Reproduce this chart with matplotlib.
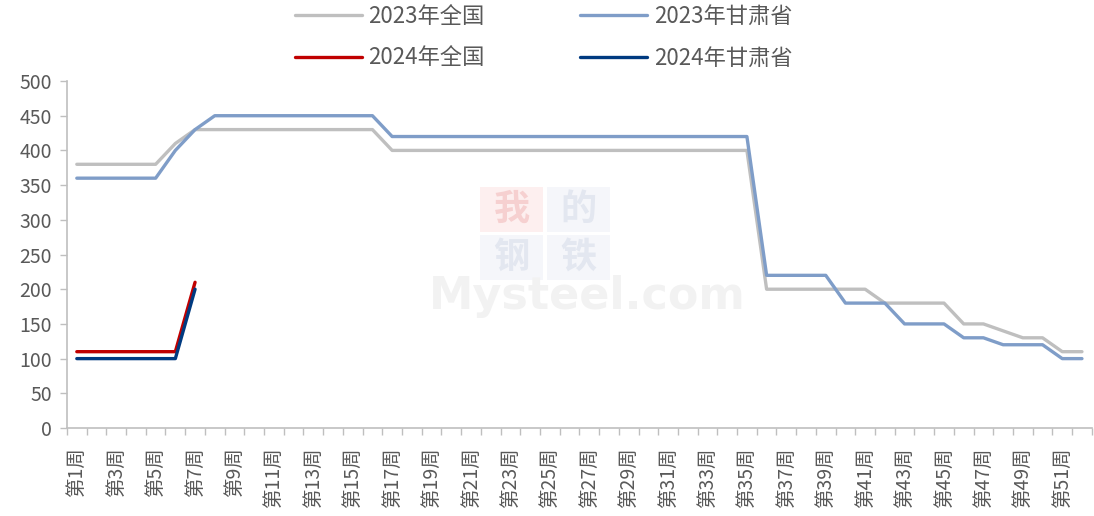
import numpy as np
import matplotlib
matplotlib.use('Agg')
import matplotlib.pyplot as plt
import matplotlib.patches as patches
from matplotlib.ticker import FixedLocator

plt.rcParams['font.family'] = ['Noto Sans CJK SC', 'DejaVu Sans']

###############################################################################
# Data
###############################################################################
weeks = list(range(1, 53))
week_labels = ['第{}周'.format(w) for w in weeks]
nat_2023 = [380, 380, 380, 380, 380, 410, 430, 430, 430, 430,
            430, 430, 430, 430, 430, 430, 400, 400, 400, 400,
            400, 400, 400, 400, 400, 400, 400, 400, 400, 400,
            400, 400, 400, 400, 400, 200, 200, 200, 200, 200,
            200, 180, 180, 180, 180, 150, 150, 140, 130, 130,
            110, 110]
gs_2023 = [360, 360, 360, 360, 360, 400, 430, 450, 450, 450,
           450, 450, 450, 450, 450, 450, 420, 420, 420, 420,
           420, 420, 420, 420, 420, 420, 420, 420, 420, 420,
           420, 420, 420, 420, 420, 220, 220, 220, 220, 180,
           180, 180, 150, 150, 150, 130, 130, 120, 120, 120,
           100, 100]
nat_2024 = [110, 110, 110, 110, 110, 110, 210]
gs_2024 = [100, 100, 100, 100, 100, 100, 200]

series = [
    ('2023年全国', nat_2023, '#BFBFBF'),
    ('2023年甘肃省', gs_2023, '#7F9DC8'),
    ('2024年全国', nat_2024, '#C00000'),
    ('2024年甘肃省', gs_2024, '#003A80'),
]

###############################################################################
# Figure
###############################################################################
(W, H) = (1094, 516)
fig = plt.figure(figsize=(W / 100, H / 100), dpi=100)
ax = fig.add_axes([0.0612, 0.1705, 0.9368, 0.6725])

# watermark (pixel boxes converted to figure fractions) -----------------------
wm = [('我', 480, 187, '#F6D0D0', '#FDEFEF'),
      ('的', 547, 187, '#E3E7F0', '#F5F6FA'),
      ('钢', 480, 235, '#E3E7F0', '#F5F6FA'),
      ('铁', 547, 235, '#E3E7F0', '#F5F6FA')]
for (ch, px, py, fc, bc) in wm:
    fig.patches.append(patches.Rectangle(
        (px / W, 1 - (py + 45) / H), 63 / W, 45 / H,
        transform=fig.transFigure, facecolor=bc, edgecolor='none', zorder=0
    ))
    fig.text((px + 31.5) / W, 1 - (py + 22.5) / H, ch, fontsize=26,
             color=fc, ha='center', va='center', fontweight='bold', zorder=0)
fig.text(0.537, 0.425, 'Mysteel.com', fontsize=32, color='#F2F2F2',
         ha='center', va='center', family='DejaVu Sans', fontweight='bold',
         zorder=0)
ax.patch.set_alpha(0)

for (name, vals, col) in series:
    ax.plot(weeks[:len(vals)], vals, color=col, lw=2.4, label=name,
            solid_capstyle='round', solid_joinstyle='round')

ax.set_xlim(0.5, 52.5)
ax.set_ylim(0, 500)
ax.set_yticks(np.arange(0, 501, 50))
ax.xaxis.set_major_locator(FixedLocator(weeks[::2]))
ax.set_xticklabels(week_labels[::2], rotation=90, fontsize=14,
                   color='#595959')
ax.xaxis.set_minor_locator(FixedLocator(np.arange(0.5, 53, 1)))
ax.tick_params(axis='x', which='major', length=0, pad=14)
ax.tick_params(axis='x', which='minor', length=5, color='#BFBFBF', width=1)
ax.tick_params(axis='y', length=5, color='#BFBFBF', width=1,
               labelsize=14, labelcolor='#595959', pad=6)
for s in ['top', 'right']:
    ax.spines[s].set_visible(False)
for s in ['left', 'bottom']:
    ax.spines[s].set_color('#BFBFBF')
    ax.spines[s].set_linewidth(1.2)

# legend filled column-wise, so order handles to read row by row
handles, labels = ax.get_legend_handles_labels()
order = [0, 2, 1, 3]
leg = fig.legend([handles[i] for i in order], [labels[i] for i in order],
                 loc='upper center', ncol=2, bbox_to_anchor=(0.497, 1.03),
                 frameon=False, fontsize=16, handlelength=3.0,
                 columnspacing=4.3, handletextpad=0.3, labelspacing=0.85,
                 labelcolor='#595959')

fig.savefig('out.png', dpi=100)
